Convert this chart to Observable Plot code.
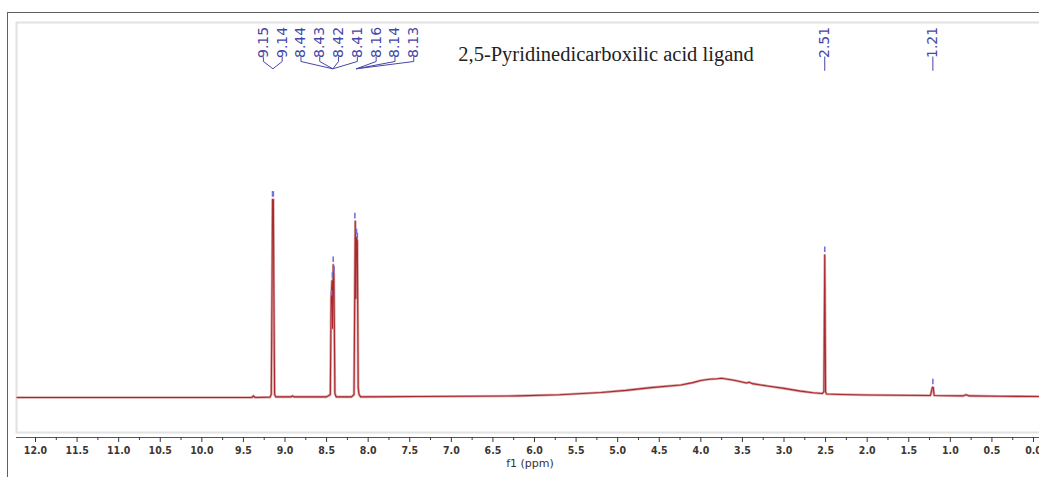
<!DOCTYPE html>
<html><head><meta charset="utf-8">
<script src="https://cdn.jsdelivr.net/npm/d3@7"></script>
<script src="https://cdn.jsdelivr.net/npm/@observablehq/plot@0.6"></script>
<style>
body{margin:0;background:#fff;}
#wrap{position:relative;width:1039px;height:477px;overflow:hidden;background:#fff;}
#wrap svg{position:absolute;left:0;top:0;}
#border{position:absolute;left:7px;top:12px;width:1100px;height:500px;border-left:1.5px solid #606060;border-top:1.5px solid #606060;pointer-events:none;}
</style></head><body>
<div id="wrap"><div id="border"></div></div>
<script>
// spectrum trace (ppm, intensity; 9.15 peak = 100)
const shifts = [12.22, 11.0, 10.0, 9.40, 9.38, 9.36, 9.18, 9.165, 9.155, 9.150, 9.145, 9.140, 9.135, 9.125, 9.11,
  8.93, 8.91, 8.89, 8.50, 8.455, 8.445, 8.435, 8.428, 8.42, 8.412, 8.40, 8.385,
  8.20, 8.17, 8.16, 8.155, 8.148, 8.14, 8.13, 8.12, 8.11, 8.09,
  7.4, 6.8, 6.2, 5.7, 5.2, 4.9, 4.6, 4.24, 4.1, 4.0, 3.9, 3.8, 3.75, 3.6, 3.45, 3.42, 3.38, 3.2, 3.0, 2.8, 2.65,
  2.54, 2.52, 2.51, 2.50, 2.49, 2.3, 2.0, 1.6, 1.24, 1.215, 1.205, 1.195, 0.85, 0.81, 0.77, 0.4, -0.08];
const intensity = [0.0, 0.0, 0.0, 0.0, 0.8, 0.0, 0.2, 1.5, 60, 100, 97, 100, 60, 1.5, 0.3,
  0.3, 0.8, 0.3, 0.3, 1.5, 50, 59, 35, 67, 62, 2, 0.3,
  0.3, 1.5, 60, 89, 50, 81, 79, 5, 1.5, 0.3,
  0.5, 0.6, 0.8, 1.4, 2.5, 3.6, 5.0, 6.3, 7.5, 8.6, 9.2, 9.5, 9.7, 8.7, 7.3, 7.7, 7.0, 5.8, 4.6, 3.2, 2.4,
  2.0, 3.0, 72, 3.0, 1.8, 1.5, 1.3, 1.1, 1.0, 5.2, 5.0, 1.0, 0.8, 1.4, 0.8, 0.6, 0.5];

// picked peaks
const peakShifts  = [9.15, 9.14, 8.44, 8.43, 8.42, 8.41, 8.16, 8.14, 8.13, 2.51, 1.21];
const peakHeights = [100, 100, 50, 59, 67, 62, 89, 81, 79, 72, 5.2];
const peakLabels  = ["9.15", "9.14", "8.44", "8.43", "8.42", "8.41", "8.16", "8.14", "8.13", "2.51", "1.21"];
const peakGroup   = [0, 0, 1, 1, 1, 1, 2, 2, 2, 3, 4];

const titleText = "2,5-Pyridinedicarboxilic acid ligand";
const axisLabel = "f1 (ppm)";
const majorTicks = [12.0, 11.5, 11.0, 10.5, 10.0, 9.5, 9.0, 8.5, 8.0, 7.5, 7.0, 6.5, 6.0, 5.5, 5.0, 4.5, 4.0, 3.5, 3.0, 2.5, 2.0, 1.5, 1.0, 0.5, 0.0];
const minorTicks = [11.75, 11.25, 10.75, 10.25, 9.75, 9.25, 8.75, 8.25, 7.75, 7.25, 6.75, 6.25, 5.75, 5.25, 4.75, 4.25, 3.75, 3.25, 2.75, 2.25, 1.75, 1.25, 0.75, 0.25];

// ---- build tables
const spectrum = shifts.map((s, i) => ({ppm: s, int: intensity[i]}));
const peaks = peakShifts.map((s, i) => ({ppm: s, h: peakHeights[i], label: peakLabels[i], g: peakGroup[i]}));

// label layout: multiplet labels spread side by side, singlets stay on their peak
const LABEL_START = 9.26, LABEL_STEP = 0.226;
const groupSize = d3.rollup(peaks, v => v.length, d => d.g);
const groupCenter = d3.rollup(peaks, v => d3.mean(v, d => d.ppm), d => d.g);
let slot = 0;
peaks.forEach(p => {
  if (groupSize.get(p.g) > 1) { p.lx = LABEL_START - slot * LABEL_STEP; slot++; p.multi = true; }
  else { p.lx = p.ppm; p.multi = false; }
  p.cx = groupCenter.get(p.g);
});
const multi = peaks.filter(p => p.multi);
const single = peaks.filter(p => !p.multi);

// annotation levels (in intensity units above baseline)
const TEXT_TOP = 187.2, TEXT_BOT = 172.2, STUB_END = 169.7, JOIN = 166.0, DASH_END = 165.0;

const blue = "#4646a8";
const chart = Plot.plot({
  width: 1039,
  height: 477,
  marginTop: 22,
  marginBottom: 45,
  marginLeft: 16,
  marginRight: -4,
  x: {domain: [12, 0], range: [35, 1033]},
  y: {domain: [0, 100], range: [397, 199], axis: null},
  style: {background: "transparent", overflow: "visible"},
  marks: [
    Plot.frame({stroke: "#e2e2e2", strokeWidth: 2}),
    Plot.ruleY([0], {dy: 40, stroke: "#555", strokeWidth: 1.2}),
    Plot.axisX(majorTicks, {anchor: "bottom", dy: 5, tickSize: 5, tickPadding: 4,
      tickFormat: d => d.toFixed(1), fontFamily: "DejaVu Sans Condensed", fontSize: 10.5,
      fontWeight: "bold", color: "#3d3630", label: null}),
    Plot.axisX(minorTicks, {anchor: "bottom", dy: 5, tickSize: 3, tickFormat: () => "", color: "#3a3a3a", label: null}),
    Plot.text([axisLabel], {text: d => d, frameAnchor: "bottom", dy: 34, fontFamily: "DejaVu Sans", fontSize: 11, fill: "#333"}),
    Plot.line(spectrum, {x: "ppm", y: "int", stroke: "#dba6a6", strokeWidth: 2.6, curve: "linear"}),
    Plot.line(spectrum, {x: "ppm", y: "int", stroke: "#a8292e", strokeWidth: 1.1, curve: "linear"}),
    Plot.ruleX(peaks, {x: "ppm", y1: d => d.h + 1.2, y2: d => d.h + 4, stroke: "#7272de", strokeWidth: 1.6}),
    // multiplet connectors
    Plot.link(multi, {x1: "lx", x2: "lx", y1: TEXT_BOT, y2: STUB_END, stroke: blue, strokeWidth: 1}),
    Plot.link(multi, {x1: "lx", x2: "cx", y1: STUB_END, y2: JOIN, stroke: blue, strokeWidth: 1}),
    Plot.link(single, {x1: "lx", x2: "lx", y1: TEXT_BOT, y2: DASH_END, stroke: blue, strokeWidth: 1}),
    Plot.text(peaks, {x: "lx", y: TEXT_TOP, text: "label", rotate: -90, textAnchor: "end", lineAnchor: "middle",
      fontFamily: "DejaVu Sans", fontSize: 14, fill: blue}),
    Plot.text([titleText], {text: d => d, frameAnchor: "top", dx: 76, dy: 24, fontFamily: "Liberation Serif", fontSize: 20.5, fill: "#222"})
  ]
});
document.getElementById("wrap").insertBefore(chart, document.getElementById("border"));
</script>
</body></html>
